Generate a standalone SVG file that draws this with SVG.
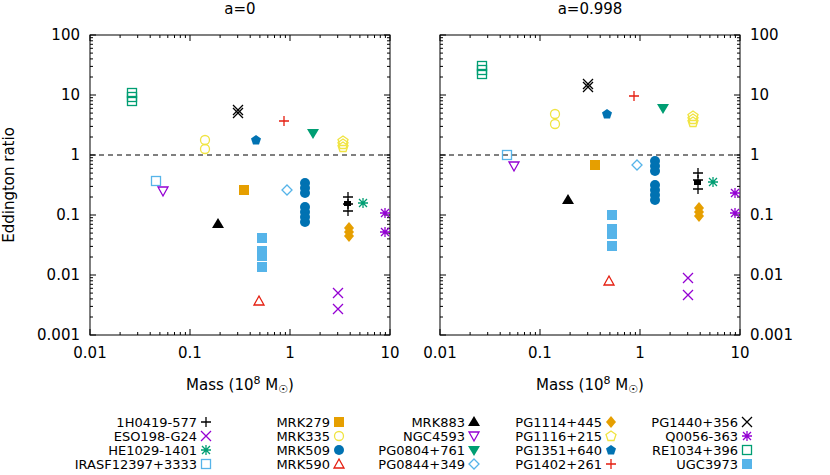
<svg xmlns="http://www.w3.org/2000/svg" width="830" height="475" viewBox="0 0 830 475">
<style>
text{font-family:"DejaVu Sans",sans-serif;font-size:13px;fill:#000}
.ax{font-size:15px}
.fr{fill:none;stroke:#000;stroke-width:1}
.tk{stroke:#000;stroke-width:1}
.dash{stroke:#000;stroke-dasharray:5,4;stroke-width:1}
.s{stroke-width:1.3;fill:none}
</style>
<defs>
<g id="plus"><path d="M-5,0H5M0,-5V5" class="s" stroke="currentColor"/></g>
<g id="x"><path d="M-5,-5L5,5M-5,5L5,-5" class="s" stroke="currentColor"/></g>
<g id="ast"><path d="M-5,0H5M0,-5V5M-4,-4L4,4M-4,4L4,-4" class="s" stroke="currentColor"/></g>
<rect id="osq" x="-4.5" y="-4.5" width="9" height="9" class="s" stroke="currentColor"/>
<rect id="fsq" x="-5" y="-5" width="10" height="10" fill="currentColor"/>
<circle id="oc" r="4.5" class="s" stroke="currentColor"/>
<circle id="fc" r="5" fill="currentColor"/>
<path id="otri" d="M0,-5L5,4H-5Z" class="s" stroke="currentColor"/>
<path id="ftri" d="M0,-6L6,4H-6Z" fill="currentColor"/>
<path id="odtri" d="M0,5L5,-4H-5Z" class="s" stroke="currentColor"/>
<path id="fdtri" d="M0,6L6,-4H-6Z" fill="currentColor"/>
<path id="odia" d="M0,-5L5,0L0,5L-5,0Z" class="s" stroke="currentColor"/>
<path id="fdia" d="M0,-6L5,0L0,6L-5,0Z" fill="currentColor"/>
<path id="opent" d="M0,-5L5,-1.5L3,4.5H-3L-5,-1.5Z" class="s" stroke="currentColor"/>
<path id="fpent" d="M0,-5L5,-1.5L3,4.5H-3L-5,-1.5Z" fill="currentColor"/>
<g id="tk">
<path class="tk" d="M0,0h6M0,18h3M0,28.6h3M0,36.1h3M0,41.9h3M0,46.7h3M0,50.7h3M0,54.2h3M0,57.3h3"/>
</g>
<g id="xtk">
<path class="tk" d="M0,0v-6M30.1,0v-3M47.7,0v-3M60.2,0v-3M69.9,0v-3M77.8,0v-3M84.5,0v-3M90.3,0v-3M95.4,0v-3"/>
</g>
</defs>

<g id="titles">
<text class="ax" x="240" y="14" text-anchor="middle">a=0</text>
<text class="ax" x="590" y="14" text-anchor="middle">a=0.998</text>
<text class="ax" x="240" y="390" text-anchor="middle">Mass (10<tspan dy="-6" font-size="11">8</tspan><tspan dy="6"> M</tspan><tspan dy="3" font-size="11">☉</tspan><tspan dy="-3">)</tspan></text>
<text class="ax" x="590" y="390" text-anchor="middle">Mass (10<tspan dy="-6" font-size="11">8</tspan><tspan dy="6"> M</tspan><tspan dy="3" font-size="11">☉</tspan><tspan dy="-3">)</tspan></text>
<text class="ax" transform="translate(14,185) rotate(-90)" text-anchor="middle">Eddington ratio</text>
</g>

<g id="axes">
<g text-anchor="end">
<text class="ax" x="80" y="40">100</text><text class="ax" x="80" y="100">10</text><text class="ax" x="80" y="160">1</text>
<text class="ax" x="80" y="220">0.1</text><text class="ax" x="80" y="280">0.01</text><text class="ax" x="80" y="340">0.001</text>
</g>
<g>
<text class="ax" x="750" y="40">100</text><text class="ax" x="750" y="100">10</text><text class="ax" x="750" y="160">1</text>
<text class="ax" x="750" y="220">0.1</text><text class="ax" x="750" y="280">0.01</text><text class="ax" x="750" y="340">0.001</text>
</g>
<g text-anchor="middle">
<text class="ax" x="90" y="358">0.01</text><text class="ax" x="190" y="358">0.1</text><text class="ax" x="290" y="358">1</text><text class="ax" x="390" y="358">10</text>
<text class="ax" x="440" y="358">0.01</text><text class="ax" x="540" y="358">0.1</text><text class="ax" x="640" y="358">1</text><text class="ax" x="740" y="358">10</text>
</g>
<rect class="fr" x="90" y="35" width="300" height="300"/>
<rect class="fr" x="440" y="35" width="300" height="300"/>
<g id="yt">
<use href="#tk" transform="translate(90,95) scale(1,-1)"/>
<use href="#tk" transform="translate(90,155) scale(1,-1)"/>
<use href="#tk" transform="translate(90,215) scale(1,-1)"/>
<use href="#tk" transform="translate(90,275) scale(1,-1)"/>
<use href="#tk" transform="translate(90,335) scale(1,-1)"/>
<use href="#tk" transform="translate(390,95) scale(-1,-1)"/>
<use href="#tk" transform="translate(390,155) scale(-1,-1)"/>
<use href="#tk" transform="translate(390,215) scale(-1,-1)"/>
<use href="#tk" transform="translate(390,275) scale(-1,-1)"/>
<use href="#tk" transform="translate(390,335) scale(-1,-1)"/>
<use href="#tk" transform="translate(440,95) scale(1,-1)"/>
<use href="#tk" transform="translate(440,155) scale(1,-1)"/>
<use href="#tk" transform="translate(440,215) scale(1,-1)"/>
<use href="#tk" transform="translate(440,275) scale(1,-1)"/>
<use href="#tk" transform="translate(440,335) scale(1,-1)"/>
<use href="#tk" transform="translate(740,95) scale(-1,-1)"/>
<use href="#tk" transform="translate(740,155) scale(-1,-1)"/>
<use href="#tk" transform="translate(740,215) scale(-1,-1)"/>
<use href="#tk" transform="translate(740,275) scale(-1,-1)"/>
<use href="#tk" transform="translate(740,335) scale(-1,-1)"/>
<path class="tk" d="M90,35h6M390,35h-6M440,35h6M740,35h-6"/>
</g>
<g id="xt">
<use href="#xtk" transform="translate(90,335)"/><use href="#xtk" transform="translate(190,335)"/><use href="#xtk" transform="translate(290,335)"/>
<use href="#xtk" transform="translate(90,35) scale(1,-1)"/><use href="#xtk" transform="translate(190,35) scale(1,-1)"/><use href="#xtk" transform="translate(290,35) scale(1,-1)"/>
<use href="#xtk" transform="translate(440,335)"/><use href="#xtk" transform="translate(540,335)"/><use href="#xtk" transform="translate(640,335)"/>
<use href="#xtk" transform="translate(440,35) scale(1,-1)"/><use href="#xtk" transform="translate(540,35) scale(1,-1)"/><use href="#xtk" transform="translate(640,35) scale(1,-1)"/>
<path class="tk" d="M390,335v-6M390,35v6M740,335v-6M740,35v6"/>
</g>
<path class="dash" d="M90,155H390M440,155H740"/>
</g>

<g id="points-left">
<g color="#009e73"><use href="#osq" x="132" y="93"/><use href="#osq" x="132" y="97"/><use href="#osq" x="132" y="101"/></g>
<g color="#000"><use href="#x" x="238" y="110"/><use href="#x" x="238" y="113"/></g>
<use href="#plus" x="284" y="121" color="#e51e10"/>
<use href="#fdtri" x="313" y="133" color="#009e73"/>
<g color="#f0e442"><use href="#oc" x="205" y="140"/><use href="#oc" x="205" y="149"/></g>
<use href="#fpent" x="256" y="140" color="#0072b2"/>
<g color="#f0e442"><use href="#opent" x="343" y="141"/><use href="#opent" x="343" y="144"/><use href="#opent" x="343" y="147"/></g>
<use href="#osq" x="156" y="181" color="#56b4e9"/>
<use href="#odtri" x="163" y="191" color="#9400d3"/>
<use href="#fsq" x="244" y="190" color="#e69f00"/>
<use href="#odia" x="287" y="190" color="#56b4e9"/>
<g color="#0072b2"><use href="#fc" x="305" y="183"/><use href="#fc" x="305" y="188"/><use href="#fc" x="305" y="193"/><use href="#fc" x="305" y="207"/><use href="#fc" x="305" y="212"/><use href="#fc" x="305" y="217"/><use href="#fc" x="305" y="222"/></g>
<g color="#000"><use href="#plus" x="348" y="197"/><use href="#plus" x="348" y="204"/><use href="#plus" x="348" y="211"/><rect x="344" y="201" width="7" height="5"/></g>
<use href="#ast" x="363" y="203" color="#009e73"/>
<g color="#9400d3"><use href="#ast" x="385" y="213"/><use href="#ast" x="385" y="232"/></g>
<use href="#ftri" x="218" y="224" color="#000"/>
<g color="#e69f00"><use href="#fdia" x="349" y="228"/><use href="#fdia" x="349" y="232"/><use href="#fdia" x="349" y="236"/></g>
<g color="#56b4e9"><use href="#fsq" x="262" y="238"/><use href="#fsq" x="262" y="251"/><use href="#fsq" x="262" y="256"/><use href="#fsq" x="262" y="267"/></g>
<use href="#otri" x="259" y="301" color="#e51e10"/>
<g color="#9400d3"><use href="#x" x="338" y="293"/><use href="#x" x="338" y="309"/></g>
</g>

<g id="points-right">
<g color="#009e73"><use href="#osq" x="482" y="66"/><use href="#osq" x="482" y="70"/><use href="#osq" x="482" y="74"/></g>
<g color="#000"><use href="#x" x="588" y="84"/><use href="#x" x="588" y="87"/></g>
<use href="#plus" x="634" y="96" color="#e51e10"/>
<use href="#fdtri" x="663" y="108" color="#009e73"/>
<g color="#f0e442"><use href="#oc" x="555" y="114"/><use href="#oc" x="555" y="124"/></g>
<use href="#fpent" x="607" y="114" color="#0072b2"/>
<g color="#f0e442"><use href="#opent" x="693" y="116"/><use href="#opent" x="693" y="119"/><use href="#opent" x="693" y="122"/></g>
<use href="#osq" x="507" y="155" color="#56b4e9"/>
<use href="#odtri" x="514" y="166" color="#9400d3"/>
<use href="#fsq" x="595" y="165" color="#e69f00"/>
<use href="#odia" x="637" y="165" color="#56b4e9"/>
<g color="#0072b2"><use href="#fc" x="655" y="161"/><use href="#fc" x="655" y="166"/><use href="#fc" x="655" y="171"/><use href="#fc" x="655" y="185"/><use href="#fc" x="655" y="190"/><use href="#fc" x="655" y="195"/><use href="#fc" x="655" y="200"/></g>
<g color="#000"><use href="#plus" x="698" y="173"/><use href="#plus" x="698" y="180"/><use href="#plus" x="698" y="189"/><rect x="694" y="180" width="7" height="5"/></g>
<use href="#ast" x="713" y="182" color="#009e73"/>
<g color="#9400d3"><use href="#ast" x="735" y="193"/><use href="#ast" x="735" y="213"/></g>
<use href="#ftri" x="568" y="200" color="#000"/>
<g color="#e69f00"><use href="#fdia" x="699" y="208"/><use href="#fdia" x="699" y="212"/><use href="#fdia" x="699" y="216"/></g>
<g color="#56b4e9"><use href="#fsq" x="612" y="215"/><use href="#fsq" x="612" y="229"/><use href="#fsq" x="612" y="234"/><use href="#fsq" x="612" y="246"/></g>
<use href="#otri" x="609" y="281" color="#e51e10"/>
<g color="#9400d3"><use href="#x" x="688" y="278"/><use href="#x" x="688" y="295"/></g>
</g>

<g id="legend" text-anchor="end">
<text x="197" y="427">1H0419-577</text><use href="#plus" x="206" y="422" color="#000"/>
<text x="197" y="441">ESO198-G24</text><use href="#x" x="206" y="436" color="#9400d3"/>
<text x="197" y="455">HE1029-1401</text><use href="#ast" x="206" y="450" color="#009e73"/>
<text x="197" y="469">IRASF12397+3333</text><use href="#osq" x="206" y="464" color="#56b4e9"/>
<text x="330" y="427">MRK279</text><use href="#fsq" x="339" y="422" color="#e69f00"/>
<text x="330" y="441">MRK335</text><use href="#oc" x="339" y="436" color="#f0e442"/>
<text x="330" y="455">MRK509</text><use href="#fc" x="339" y="450" color="#0072b2"/>
<text x="330" y="469">MRK590</text><use href="#otri" x="339" y="464" color="#e51e10"/>
<text x="465" y="427">MRK883</text><use href="#ftri" x="474" y="422" color="#000"/>
<text x="465" y="441">NGC4593</text><use href="#odtri" x="474" y="436" color="#9400d3"/>
<text x="465" y="455">PG0804+761</text><use href="#fdtri" x="474" y="450" color="#009e73"/>
<text x="465" y="469">PG0844+349</text><use href="#odia" x="474" y="464" color="#56b4e9"/>
<text x="602" y="427">PG1114+445</text><use href="#fdia" x="611" y="422" color="#e69f00"/>
<text x="602" y="441">PG1116+215</text><use href="#opent" x="611" y="436" color="#f0e442"/>
<text x="602" y="455">PG1351+640</text><use href="#fpent" x="611" y="450" color="#0072b2"/>
<text x="602" y="469">PG1402+261</text><use href="#plus" x="611" y="464" color="#e51e10"/>
<text x="738" y="427">PG1440+356</text><use href="#x" x="747" y="422" color="#000"/>
<text x="738" y="441">Q0056-363</text><use href="#ast" x="747" y="436" color="#9400d3"/>
<text x="738" y="455">RE1034+396</text><use href="#osq" x="747" y="450" color="#009e73"/>
<text x="738" y="469">UGC3973</text><use href="#fsq" x="747" y="464" color="#56b4e9"/>
</g>
</svg>
